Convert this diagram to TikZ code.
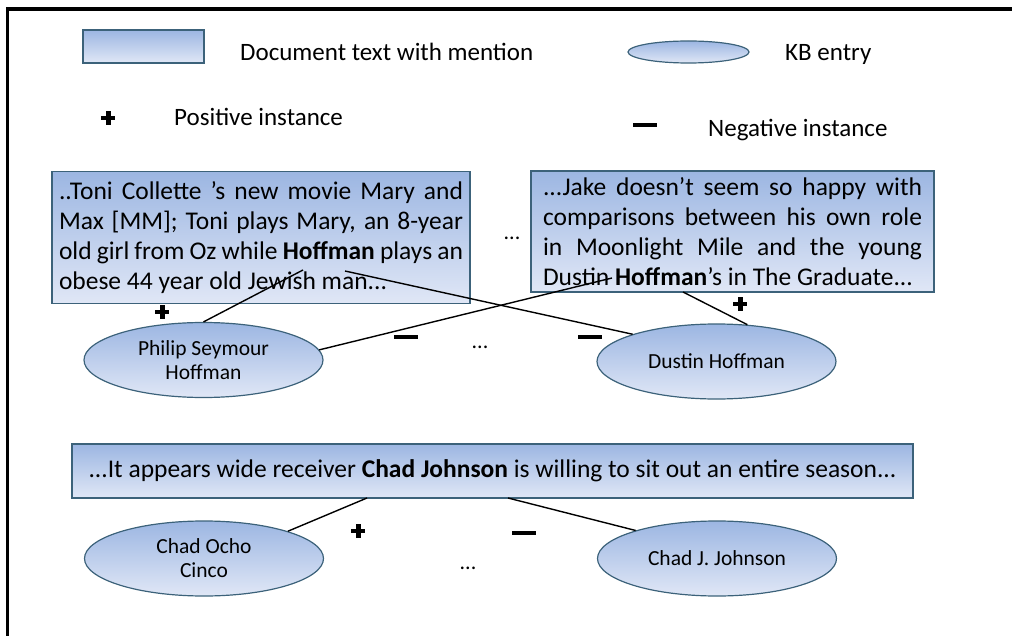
\documentclass[tikz,border=0pt]{standalone}
\usepackage{fontspec}
\setmainfont{Carlito}
\usepackage{tikz}
\usetikzlibrary{shapes.geometric}
\definecolor{boxtop}{RGB}{156,182,226}
\definecolor{boxbot}{RGB}{224,231,246}
\definecolor{boxline}{RGB}{60,98,122}
\newcommand{\plusmark}{\rlap{\rule[4.75pt]{14pt}{4.5pt}}\hspace{4.75pt}\rule{4.5pt}{14pt}\hspace{4.75pt}}
\newcommand{\minusmark}{\rule{24pt}{4.5pt}}

\begin{document}
\begin{tikzpicture}[x=1pt,y=-1pt,auto]
		\tikzstyle{doc}=[rectangle,draw=boxline,line width=1.2pt,
			top color=boxtop,bottom color=boxbot,inner ysep=0pt,
			align=justify,font=\fontsize{25.5}{30}\selectfont];
		\tikzstyle{kb}=[ellipse,draw=boxline,line width=1.2pt,
			top color=boxtop,bottom color=boxbot,inner sep=0pt,
			minimum width=239pt,minimum height=75pt,align=center,
			font=\fontsize{21.5}{24}\selectfont];
		\tikzstyle{legend}=[anchor=base west,inner sep=0pt,
			font=\fontsize{25}{30}\selectfont];
		\tikzstyle{sign}=[inner sep=0pt];
		\tikzstyle{dots}=[inner sep=0pt,font=\fontsize{22}{22}\selectfont];
		\tikzstyle{link}=[line width=1.4pt];
		\useasboundingbox(0,0)rectangle(1012,636);
		\clip(0,0)rectangle(1012,636);
		\draw[line width=3.5pt](7.5,700)|-(1100,9);

		\node[doc,minimum width=121pt,minimum height=33pt](ld)at(143.5,46.5){};
		\node[legend](ldt)at(240,61){Document text with mention};
		\node[kb,minimum width=121pt,minimum height=22pt](le)at(688.5,52){};
		\node[legend](let)at(785,61){KB entry};
		\node[sign](lp)at(106,118){\plusmark};
		\node[legend](lpt)at(174,126){Positive instance};
		\node[sign](ln)at(645,125){\minusmark};
		\node[legend](lnt)at(708,137){Negative instance};

		\node[doc,text width=404pt,inner xsep=7pt,minimum height=132pt](d1)at(261,237.5){..Toni Collette 's new movie Mary and\linebreak Max [MM]; Toni plays Mary, an 8-year\linebreak old girl from Oz while \textbf{Hoffman} plays an\linebreak obese 44 year old Jewish man...};
		\node[doc,text width=379pt,inner xsep=12pt,minimum height=121pt](d2)at(732.5,231.5){...Jake doesn't seem so happy with\linebreak comparisons between his own role\linebreak in Moonlight Mile and the young\linebreak Dustin \textbf{Hoffman}'s in The Graduate...};
		\node[dots](dt1)at(512,238){...};
		\node[kb](e1)at(203.5,360){Philip Seymour\\Hoffman};
		\node[kb](e2)at(716.5,361.5){Dustin Hoffman};
		\node[dots](dt2)at(480,347){...};

		\node[doc,align=center,minimum width=841pt,minimum height=54pt](d3)at(492.5,471){...It appears wide receiver \textbf{Chad Johnson} is willing to sit out an entire season...};
		\node[kb](e3)at(204,558.5){Chad Ocho\\Cinco};
		\node[kb](e4)at(717,558.5){Chad J. Johnson};
		\node[dots](dt3)at(468,568){...};

		\coordinate(m1a)at(303,270);
		\coordinate(m1b)at(345,271);
		\coordinate(m2a)at(612,278);
		\coordinate(m2b)at(683,292);
		\coordinate(m3a)at(367,498);
		\coordinate(m3b)at(508,498);

		\draw[link](m1a)--(e1.north);
		\draw[link](m1b)--(e2.162);
		\draw[link](m2a)--(e1.5);
		\draw[link](m2b)--(e2.50);
		\draw[link](m3a)--(e3.18);
		\draw[link](m3b)--(e4.161);

		\node[sign](p1)at(160,312){\plusmark};
		\node[sign](n1)at(406,337){\minusmark};
		\node[sign](n2)at(590,337){\minusmark};
		\node[sign](p2)at(738,304){\plusmark};
		\node[sign](p3)at(356,531){\plusmark};
		\node[sign](n3)at(524,533){\minusmark};
	\end{tikzpicture}
\end{document}
